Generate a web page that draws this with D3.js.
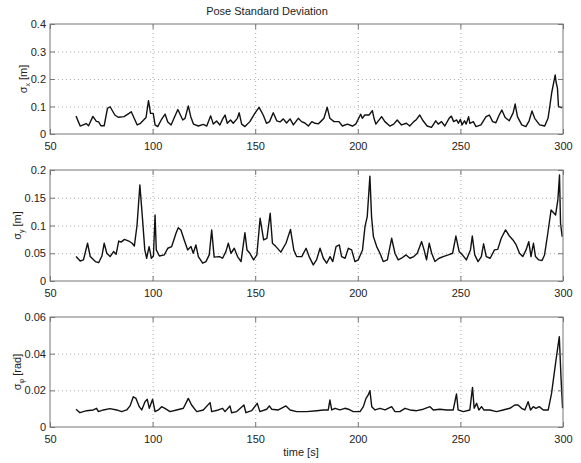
<!DOCTYPE html>
<html>
<head>
<meta charset="utf-8">
<script src="https://cdn.jsdelivr.net/npm/d3@7"></script>
<style>
  body { margin: 0; background: #fff; }
  svg { display: block; }
  text { font-family: "Liberation Sans", Arial, sans-serif; fill: #222; }
</style>
</head>
<body>
<svg width="581" height="463"></svg>
<script>
'use strict';

// sigma_x [m]
var timeX = [62.7, 64.7, 67.6, 68.8, 70.9, 72.6, 73.7, 74.8, 76.4, 78, 79.3, 81.6, 83.2, 86.1, 88.5, 89.6,
    92.5, 94.1, 96.8, 98, 99, 100.3, 101.2, 102.5, 104.2, 106.1, 107.4, 109, 112.3, 114.7, 115.8, 117.4,
    118.6, 119.9, 122.3, 124.7, 126.4, 128.3, 129.6, 131.2, 132.8, 134.1, 135.3, 136.4, 138, 139.3, 141.3,
    142.2, 143.4, 145, 147.4, 149.8, 151.9, 153.9, 155.5, 157, 158.8, 160.5, 162.1, 163.7, 165.3, 167,
    168.6, 171, 172.6, 174.2, 175.9, 177.6, 179.2, 180.8, 181.9, 183.5, 185.1, 186.4, 188.4, 190.8, 192.5,
    194.9, 197.4, 199, 201.4, 202.2, 203.4, 205.5, 207.1, 207.9, 208.8, 211.6, 213.2, 215.6, 217.5, 219.2,
    221.3, 223.7, 225.3, 227.3, 228.6, 230.2, 231.8, 233.8, 235.9, 238, 239.2, 240.8, 242.4, 244.5, 245.6,
    246.7, 248.2, 249, 250, 250.8, 252, 252.8, 254, 254.6, 256.3, 257.6, 260, 262.5, 264.1, 265.7, 267.3,
    268.9, 270.2, 271.8, 273.8, 275.7, 276.7, 277.8, 279.9, 281.9, 283.5, 284.9, 286.2, 288.6, 291.1,
    292.7, 293.5, 294.5, 296.2, 296.6, 297.3, 297.8, 299.5];
var sigmaX = [0.065, 0.029, 0.038, 0.030, 0.064, 0.046, 0.044, 0.030, 0.030, 0.093, 0.099, 0.069, 0.061, 0.063, 0.075, 0.081,
    0.033, 0.039, 0.060, 0.121, 0.075, 0.075, 0.033, 0.027, 0.051, 0.072, 0.044, 0.033, 0.089, 0.051, 0.057, 0.102,
    0.063, 0.036, 0.029, 0.035, 0.029, 0.066, 0.036, 0.047, 0.033, 0.054, 0.069, 0.039, 0.051, 0.039, 0.057,
    0.077, 0.036, 0.027, 0.045, 0.075, 0.097, 0.069, 0.039, 0.045, 0.077, 0.048, 0.044, 0.055, 0.040, 0.055,
    0.033, 0.057, 0.045, 0.040, 0.029, 0.045, 0.039, 0.037, 0.045, 0.057, 0.097, 0.057, 0.045, 0.045, 0.029,
    0.036, 0.029, 0.036, 0.072, 0.057, 0.069, 0.069, 0.085, 0.057, 0.036, 0.063, 0.045, 0.029, 0.036, 0.051,
    0.033, 0.039, 0.029, 0.045, 0.053, 0.069, 0.048, 0.029, 0.024, 0.048, 0.036, 0.045, 0.029, 0.057, 0.065,
    0.045, 0.051, 0.039, 0.053, 0.033, 0.048, 0.036, 0.063, 0.039, 0.045, 0.027, 0.033, 0.063, 0.069, 0.045, 0.041,
    0.069, 0.087, 0.060, 0.048, 0.077, 0.109, 0.063, 0.033, 0.027, 0.048, 0.084, 0.057, 0.033, 0.029,
    0.057, 0.097, 0.150, 0.215, 0.190, 0.166, 0.100, 0.095];

// sigma_y [m]
var timeY = [62.7, 64.7, 66.3, 68.3, 69.6, 72.1, 73.7, 75.3, 76.4, 77.7, 79.3, 81, 82.2, 83.5, 84.6, 86.3,
    88.4, 90, 91.1, 92.4, 93.8, 95, 96.2, 97.1, 98.3, 99.4, 100.4, 101.2, 101.8, 103.3, 105.7, 107.4, 109.3,
    111.4, 112.5, 113.8, 115.4, 117.1, 118.7, 119.8, 121.1, 122.3, 124.4, 126, 127.6, 128.8, 130, 132.5,
    134.1, 135.7, 136.9, 138.2, 139.8, 141.4, 143.1, 145, 146, 147.4, 149.2, 150.8, 152.4, 154.1, 155.7,
    157.3, 158.4, 160.1, 162.5, 165, 167.2, 168.8, 170.2, 172.7, 174.8, 176.4, 178.3, 179.9, 181.6, 183.2,
    184.8, 186.5, 187.8, 189.4, 191, 192.1, 193.8, 195.4, 197, 198.6, 200.2, 202.3, 203.5, 204.6, 205.9,
    206.7, 207.6, 209.2, 210.8, 212.4, 214.4, 216.5, 218.1, 219.7, 221.3, 223.5, 225.4, 227.3, 229, 231.1,
    232.3, 233.5, 234.8, 236, 237.6, 239.6, 241.6, 244.1, 246.2, 247.8, 249.4, 251, 252.9, 254.9, 255.8,
    257, 258.6, 260.2, 261.3, 262.6, 264.5, 266.6, 268.2, 269.9, 272, 273.9, 275.6, 277.2, 278.8, 280.4,
    282, 283.3, 284.4, 285.6, 286.6, 288.2, 289.8, 291, 292.6, 294.2, 296.4, 297.5, 298.3, 298.8, 299.6];
var sigmaY = [0.044, 0.036, 0.038, 0.068, 0.044, 0.035, 0.033, 0.045, 0.068, 0.050, 0.044, 0.053, 0.048, 0.072, 0.070, 0.075,
    0.072, 0.068, 0.063, 0.100, 0.173, 0.116, 0.056, 0.041, 0.062, 0.041, 0.045, 0.119, 0.056, 0.045, 0.047, 0.059, 0.062,
    0.086, 0.096, 0.092, 0.074, 0.056, 0.062, 0.050, 0.065, 0.044, 0.032, 0.035, 0.047, 0.092, 0.043, 0.044,
    0.041, 0.053, 0.068, 0.050, 0.059, 0.044, 0.035, 0.087, 0.056, 0.050, 0.038, 0.047, 0.113, 0.074, 0.077,
    0.122, 0.068, 0.062, 0.052, 0.068, 0.093, 0.056, 0.044, 0.044, 0.059, 0.043, 0.029, 0.038, 0.059, 0.041,
    0.032, 0.044, 0.035, 0.062, 0.065, 0.044, 0.041, 0.059, 0.056, 0.035, 0.038, 0.056, 0.098, 0.116, 0.189,
    0.116, 0.080, 0.062, 0.050, 0.035, 0.038, 0.077, 0.050, 0.038, 0.041, 0.047, 0.041, 0.044, 0.050, 0.071,
    0.056, 0.038, 0.068, 0.050, 0.035, 0.041, 0.044, 0.047, 0.050, 0.081, 0.053, 0.047, 0.038, 0.056, 0.081,
    0.047, 0.035, 0.044, 0.067, 0.044, 0.041, 0.056, 0.057, 0.077, 0.092, 0.081, 0.074, 0.065, 0.050, 0.044,
    0.056, 0.071, 0.044, 0.068, 0.044, 0.038, 0.037, 0.047, 0.086, 0.128, 0.119, 0.146, 0.191, 0.104, 0.080];

// sigma_phi [rad]
var timePhi = [62.7, 64.6, 67.9, 71.1, 72.7, 73.6, 76, 79.2, 82.5, 84.9, 87.4, 89, 90.6, 91.9, 93.5, 94.7,
    96.3, 97.4, 98.4, 100, 101.2, 102.8, 104.4, 106, 108.5, 111.7, 115, 117.4, 119, 121.5, 124.7, 128,
    128.8, 132, 134.1, 135.3, 137.7, 138.5, 141, 144.5, 145.5, 148.3, 151, 152.3, 155.6, 156.9, 158,
    161.3, 165, 167, 170.2, 175, 180, 183.2, 185.6, 186.4, 187.3, 188.9, 191.3, 193.7, 195.4, 197.8,
    201.1, 202.7, 204, 205.1, 205.9, 206.8, 208.4, 210.8, 213.3, 216.5, 218.1, 220.5, 223, 225.4, 228.7,
    231.9, 235.2, 236.8, 240, 243.3, 246.5, 248.1, 248.9, 251.4, 254.6, 255.9, 256.7, 257.9, 259, 260.3,
    261.4, 264.4, 267.6, 270.8, 274.1, 276.5, 278.1, 279.8, 281.4, 283, 284.2, 285.5, 286.8, 288.4,
    290.4, 292.8, 294.4, 296.6, 298.2, 299, 299.8];
var sigmaPhi = [0.0097, 0.0078, 0.0089, 0.0093, 0.0102, 0.0084, 0.0093, 0.0100, 0.0093, 0.0084, 0.0093, 0.0115, 0.0165, 0.0156, 0.0111, 0.0093,
    0.0138, 0.0151, 0.0102, 0.0151, 0.0084, 0.0093, 0.0111, 0.0102, 0.0084, 0.0093, 0.0102, 0.0156, 0.0120, 0.0084, 0.0093, 0.0133,
    0.0084, 0.0093, 0.0102, 0.0084, 0.0115, 0.0078, 0.0084, 0.0120, 0.0078, 0.0089, 0.0129, 0.0084, 0.0097, 0.0115, 0.0097,
    0.0093, 0.0115, 0.0093, 0.0084, 0.0084, 0.0089, 0.0093, 0.0093, 0.0147, 0.0093, 0.0102, 0.0093, 0.0102, 0.0097, 0.0084,
    0.0084, 0.0111, 0.0156, 0.0175, 0.0198, 0.0111, 0.0093, 0.0102, 0.0093, 0.0111, 0.0084, 0.0084, 0.0102, 0.0093, 0.0089,
    0.0097, 0.0111, 0.0093, 0.0097, 0.0093, 0.0093, 0.0180, 0.0093, 0.0084, 0.0093, 0.0216, 0.0102, 0.0129, 0.0093, 0.0111,
    0.0093, 0.0093, 0.0084, 0.0093, 0.0102, 0.0120, 0.0120, 0.0102, 0.0093, 0.0138, 0.0093, 0.0111, 0.0102, 0.0111,
    0.0093, 0.0093, 0.0182, 0.0366, 0.0493, 0.0275, 0.0102];

var xTicks = [50, 100, 150, 200, 250, 300];
var yTicksX = [0, 0.1, 0.2, 0.3, 0.4];
var yTicksY = [0, 0.05, 0.1, 0.15, 0.2];
var yTicksPhi = [0, 0.02, 0.04, 0.06];

var svg = d3.select('svg');

var left = 50, right = 563;
var x = d3.scaleLinear().domain([50, 300]).range([left, right]);

var panels = [
    { t: timeX, v: sigmaX, ticks: yTicksX, top: 24, bottom: 134, sub: 'x', unit: ' [m]', labelX: 27 },
    { t: timeY, v: sigmaY, ticks: yTicksY, top: 170, bottom: 281, sub: 'y', unit: ' [m]', labelX: 21 },
    { t: timePhi, v: sigmaPhi, ticks: yTicksPhi, top: 317, bottom: 427, sub: '\u03c6', unit: ' [rad]', labelX: 21 }
];

panels.forEach(function (p) {
    var h = p.bottom - p.top;
    var y = d3.scaleLinear()
        .domain([0, p.ticks[p.ticks.length - 1]])
        .range([p.bottom, p.top]);

    var g = svg.append('g');

    // dotted grid
    g.append('g')
        .attr('transform', 'translate(0,' + p.bottom + ')')
        .call(d3.axisBottom(x).tickValues(xTicks.slice(1, -1)).tickSize(-h).tickFormat(''))
        .call(function (s) {
            s.select('.domain').remove();
            s.selectAll('line').attr('stroke', '#aaa').attr('stroke-dasharray', '1,3');
        });
    g.append('g')
        .attr('transform', 'translate(' + left + ',0)')
        .call(d3.axisLeft(y).tickValues(p.ticks.slice(1, -1)).tickSize(-(right - left)).tickFormat(''))
        .call(function (s) {
            s.select('.domain').remove();
            s.selectAll('line').attr('stroke', '#aaa').attr('stroke-dasharray', '1,3');
        });

    // series line
    var pts = d3.zip(p.t, p.v);
    g.append('path')
        .datum(pts)
        .attr('fill', 'none')
        .attr('stroke', '#111')
        .attr('stroke-width', 1.4)
        .attr('stroke-linejoin', 'round')
        .attr('d', d3.line()
            .x(function (d) { return x(d[0]); })
            .y(function (d) { return y(d[1]); }));

    // axes with inward ticks
    function styleAxis(s) {
        s.select('.domain').remove();
        s.selectAll('line').attr('stroke', '#777');
        s.selectAll('text').attr('fill', '#222').style('font-size', '11px')
            .style('font-family', '"Liberation Sans", Arial, sans-serif');
    }
    g.append('g')
        .attr('transform', 'translate(0,' + p.bottom + ')')
        .call(d3.axisBottom(x).tickValues(xTicks).tickSize(-5).tickPadding(8).tickFormat(d3.format('d')))
        .call(styleAxis);
    g.append('g')
        .attr('transform', 'translate(0,' + p.top + ')')
        .call(d3.axisTop(x).tickValues(xTicks).tickSize(-5).tickFormat(''))
        .call(styleAxis);
    g.append('g')
        .attr('transform', 'translate(' + left + ',0)')
        .call(d3.axisLeft(y).tickValues(p.ticks).tickSize(-5).tickPadding(4).tickFormat(function (d) { return String(d); }))
        .call(styleAxis);
    g.append('g')
        .attr('transform', 'translate(' + right + ',0)')
        .call(d3.axisRight(y).tickValues(p.ticks).tickSize(-5).tickFormat(''))
        .call(styleAxis);

    // frame
    g.append('rect')
        .attr('x', left).attr('y', p.top)
        .attr('width', right - left).attr('height', h)
        .attr('fill', 'none')
        .attr('stroke', '#777')
        .attr('stroke-width', 1);

    // y label
    var lab = g.append('text')
        .attr('transform', 'translate(' + p.labelX + ',' + (p.top + h / 2) + ') rotate(-90)')
        .attr('text-anchor', 'middle')
        .style('font-size', '11px');
    lab.append('tspan').text('\u03c3');
    lab.append('tspan').attr('dy', 3).style('font-size', '7px').text(p.sub);
    lab.append('tspan').attr('dy', -3).text(p.unit);
});

svg.append('text')
    .attr('x', 267).attr('y', 15)
    .attr('text-anchor', 'middle')
    .style('font-size', '11px')
    .text('Pose Standard Deviation');

svg.append('text')
    .attr('x', 301).attr('y', 456)
    .attr('text-anchor', 'middle')
    .style('font-size', '11px')
    .text('time [s]');
</script>
</body>
</html>
